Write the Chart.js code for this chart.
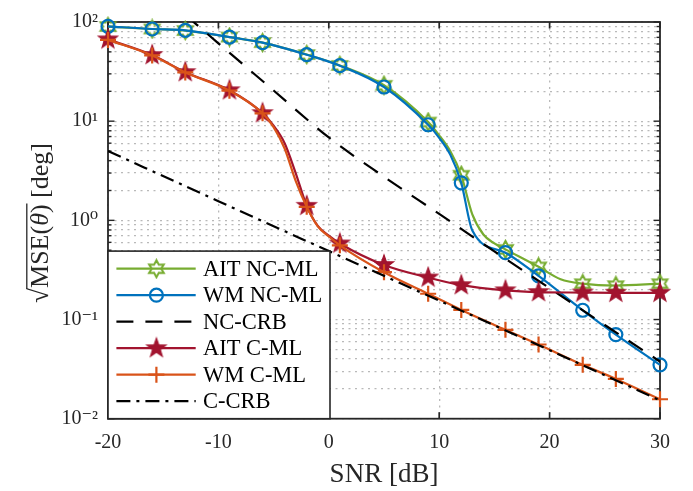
<!DOCTYPE html>
<html><head><meta charset="utf-8">
<script src="https://cdn.jsdelivr.net/npm/chart.js@4.4.1/dist/chart.umd.min.js"></script>
<style>html,body{margin:0;padding:0;background:#fff;}canvas{display:block;}</style>
</head><body>
<canvas id="c" width="693" height="491"></canvas>
<script>
// ---------------- data ----------------
const markerSnr = [-20,-16,-13,-9,-6,-2,1,5,9,12,16,19,23,26,30];

const aitNcSnr = [-20,-16,-13,-9,-6,-2,1,5,9,10,11,12,13,14,15,16,19,21,23,26,30];
const aitNcMse = [90,85,82,70.5,62,47,36.5,23,9.8,7.2,5.0,2.85,1.15,0.72,0.585,0.51,0.34,0.255,0.23,0.22,0.23];

const wmNcSnr = [-20,-16,-13,-9,-6,-2,1,5,9,10,11,12,13,16,19,23,26,30];
const wmNcMse = [90.5,85,82.5,70.5,62,46.8,36.3,22.1,9.2,6.8,4.6,2.39,0.79,0.472,0.275,0.124,0.0705,0.0349];

const ncCrbSnr = [-13,-10,-5,0,5,10,15,20,25,30];
const ncCrbMse = [118,61,20.4,6.85,2.75,1.16,0.486,0.207,0.088,0.0377];

const aitCSnr = [-20,-16,-13,-9,-6,-5,-4,-3,-2,-1,0,1,5,9,12,16,19,23,26,30];
const aitCMse = [66.8,46.4,31.2,20.5,12.05,9.0,6.0,3.0,1.4,0.88,0.70,0.585,0.355,0.265,0.222,0.197,0.189,0.187,0.186,0.186];

const wmCSnr = [-20,-16,-13,-9,-6,-5,-4,-3,-2,-1,0,1,5,9,12,16,19,23,26,30];
const wmCMse = [66,46,31,20.3,12,8.7,5.3,2.5,1.37,0.87,0.69,0.56,0.30,0.182,0.125,0.0788,0.056,0.0349,0.0252,0.0157];

const cCrbSnr = [-20,-10,0,10,20,30];
const cCrbMse = [5.0,1.56,0.49,0.155,0.049,0.0153];

const xTickValues = [-20,-10,0,10,20,30];
const yDecades = [0.01,0.1,1,10,100];
const yTickLabels = ['10\u207B\u00B2','10\u207B\u00B9','10\u2070','10\u00B9','10\u00B2'];
const seriesLabels = ['AIT NC-ML','WM NC-ML','NC-CRB','AIT C-ML','WM C-ML','C-CRB'];
const xTitle = 'SNR [dB]';

// ---------------- styles ----------------
const COL = {green:'#77AC30', blue:'#0072BD', red:'#A2142F', orange:'#D95319', black:'#000000', axis:'#262626', grid:'#b9b9b9'};
const SERIF = '"Liberation Serif", "DejaVu Serif", serif';

function starCanvas(n, R, ratio, stroke, fill, lw) {
  const s = Math.ceil(2 * R + lw + 2);
  const cv = document.createElement('canvas');
  cv.width = s; cv.height = s;
  const g = cv.getContext('2d');
  const c = s / 2;
  g.beginPath();
  for (let k = 0; k < 2 * n; k++) {
    const ang = -Math.PI / 2 + k * Math.PI / n;
    const rr = (k % 2 === 0) ? R : R * ratio;
    const px = c + rr * Math.cos(ang), py = c + rr * Math.sin(ang);
    if (k === 0) g.moveTo(px, py); else g.lineTo(px, py);
  }
  g.closePath();
  g.lineJoin = 'miter';
  if (fill) { g.fillStyle = fill; g.fill(); }
  g.lineWidth = lw; g.strokeStyle = stroke; g.stroke();
  return cv;
}
const hexagram = starCanvas(6, 8.5, 0.56, COL.green, null, 2);
const pentagram = starCanvas(5, 10, 0.40, COL.red, COL.red, 1.2);

const pts = (xs, ys) => xs.map((x, i) => ({x, y: ys[i]}));
const markerRadius = r => (ctx) => (ctx.raw && markerSnr.includes(ctx.raw.x)) ? r : 0;

const base = {borderWidth: 2.2, borderJoinStyle: 'round', cubicInterpolationMode: 'monotone', fill: false};

const datasets = [
  {...base, label: seriesLabels[0], data: pts(aitNcSnr, aitNcMse), borderColor: COL.green,
   pointStyle: hexagram, pointRadius: markerRadius(9), order: 6, clip: false},
  {...base, label: seriesLabels[1], data: pts(wmNcSnr, wmNcMse), borderColor: COL.blue,
   pointStyle: 'circle', pointRadius: markerRadius(6.5), pointBorderWidth: 2.2,
   pointBorderColor: COL.blue, pointBackgroundColor: 'rgba(0,0,0,0)', order: 5, clip: false},
  {...base, label: seriesLabels[2], data: pts(ncCrbSnr, ncCrbMse), borderColor: COL.black,
   borderDash: [17, 12], pointRadius: 0, order: 4},
  {...base, label: seriesLabels[3], data: pts(aitCSnr, aitCMse), borderColor: COL.red,
   pointStyle: pentagram, pointRadius: markerRadius(10), order: 3, clip: false},
  {...base, label: seriesLabels[4], data: pts(wmCSnr, wmCMse), borderColor: COL.orange,
   pointStyle: 'cross', pointRadius: markerRadius(8), pointBorderWidth: 2.2,
   pointBorderColor: COL.orange, order: 2, clip: false},
  {...base, label: seriesLabels[5], data: pts(cCrbSnr, cCrbMse), borderColor: COL.black,
   borderDash: [14, 6, 3, 6], pointRadius: 0, order: 1}
];

const isDecade = v => Math.abs(Math.log10(v) - Math.round(Math.log10(v))) < 1e-9;

// axes box with inward ticks (drawn under the data, as in the reference)
const axesBox = {
  id: 'axesBox',
  beforeDatasetsDraw(chart) {
    const {ctx, chartArea: a, scales: {x, y}} = chart;
    ctx.save();
    ctx.strokeStyle = COL.axis; ctx.lineWidth = 1.7; ctx.setLineDash([]);
    const ln = (x1, y1, x2, y2) => { ctx.beginPath(); ctx.moveTo(x1, y1); ctx.lineTo(x2, y2); ctx.stroke(); };
    x.ticks.forEach(t => {
      const px = x.getPixelForValue(t.value);
      ln(px, a.bottom, px, a.bottom - 6.5); ln(px, a.top, px, a.top + 6.5);
    });
    ctx.lineWidth = 1.4;
    y.ticks.forEach(t => {
      const py = y.getPixelForValue(t.value);
      const len = isDecade(t.value) ? 6.5 : 3.5;
      ln(a.left, py, a.left + len, py); ln(a.right, py, a.right - len, py);
    });
    ctx.lineWidth = 1.8;
    ctx.strokeRect(a.left, a.top, a.right - a.left, a.bottom - a.top);
    ctx.restore();
  }
};

// y-axis title with a radical and overline, legend box
const overlay = {
  id: 'overlay',
  afterDraw(chart) {
    const {ctx, chartArea: a} = chart;
    // ---- y title ----
    const size = 26;
    const cy = 223;
    const bx = 48; // baseline screen x
    ctx.save();
    ctx.translate(bx, cy);
    ctx.rotate(-Math.PI / 2);
    ctx.fillStyle = COL.axis; ctx.strokeStyle = COL.axis;
    ctx.textBaseline = 'alphabetic'; ctx.textAlign = 'left';
    const fUp = `${size}px ${SERIF}`, fIt = `italic ${size}px ${SERIF}`;
    ctx.font = fUp;
    const parenAsc = ctx.measureText('(').actualBoundingBoxAscent;
    const wA = ctx.measureText('MSE(').width, wC = ctx.measureText(')').width, wD = ctx.measureText(' [deg]').width;
    ctx.font = fIt; const wT = ctx.measureText('\u03B8').width;
    ctx.font = fUp; const m0 = ctx.measureText('\u221A');
    const radSize = size * (parenAsc + 4) / Math.max(m0.actualBoundingBoxAscent, 1);
    const fRad = `${radSize}px ${SERIF}`;
    ctx.font = fRad; const mr = ctx.measureText('\u221A');
    const wR = mr.width;
    const total = wR + wA + wT + wC + wD;
    let x0 = -total / 2;
    ctx.font = fRad; ctx.fillText('\u221A', x0, 0);
    const olY = -mr.actualBoundingBoxAscent + 0.8;
    const olX1 = x0 + mr.actualBoundingBoxRight - 1.2;
    x0 += wR;
    ctx.font = fUp; ctx.fillText('MSE(', x0, 0); x0 += wA;
    ctx.font = fIt; ctx.fillText('\u03B8', x0, 0); x0 += wT;
    ctx.font = fUp; ctx.fillText(')', x0, 0); x0 += wC;
    const olX2 = x0 + 1;
    ctx.fillText(' [deg]', x0, 0);
    ctx.lineWidth = 1.3;
    ctx.beginPath(); ctx.moveTo(olX1, olY); ctx.lineTo(olX2, olY); ctx.stroke();
    ctx.restore();

    // ---- legend ----
    const L = a.left, B = a.bottom, W = 222, H = 167.6;
    const top = B - H;
    ctx.save();
    ctx.fillStyle = '#ffffff';
    ctx.fillRect(L, top, W, H);
    ctx.strokeStyle = COL.axis; ctx.lineWidth = 1.6;
    ctx.strokeRect(L, top, W, H);
    const x1 = L + 8.4, x2 = L + 87.7, xm = L + 48.4, xt = L + 95;
    chart.data.datasets.forEach((ds, i) => {
      const yy = top + 17.6 + i * 26.5;
      ctx.setLineDash(ds.borderDash || []);
      ctx.strokeStyle = ds.borderColor; ctx.lineWidth = ds.borderWidth;
      ctx.beginPath(); ctx.moveTo(x1, yy); ctx.lineTo(x2, yy); ctx.stroke();
      ctx.setLineDash([]);
      const ps = ds.pointStyle;
      if (ps instanceof HTMLCanvasElement) {
        ctx.drawImage(ps, xm - ps.width / 2, yy - ps.height / 2);
      } else if (ps === 'circle') {
        ctx.strokeStyle = ds.pointBorderColor; ctx.lineWidth = 2.2;
        ctx.beginPath(); ctx.arc(xm, yy, 6.5, 0, Math.PI * 2); ctx.stroke();
      } else if (ps === 'cross') {
        ctx.strokeStyle = ds.pointBorderColor; ctx.lineWidth = 2.2;
        ctx.beginPath(); ctx.moveTo(xm - 8, yy); ctx.lineTo(xm + 8, yy);
        ctx.moveTo(xm, yy - 8); ctx.lineTo(xm, yy + 8); ctx.stroke();
      }
      ctx.fillStyle = '#000000';
      ctx.font = `22.5px ${SERIF}`;
      ctx.textBaseline = 'middle'; ctx.textAlign = 'left';
      ctx.fillText(ds.label, xt, yy + 1);
    });
    ctx.restore();
  }
};

new Chart(document.getElementById('c'), {
  type: 'line',
  data: {datasets},
  options: {
    responsive: false,
    animation: false,
    events: [],
    layout: {padding: {top: 15.7, right: 33, left: 0, bottom: 0}},
    plugins: {legend: {display: false}, tooltip: {enabled: false}},
    scales: {
      x: {
        type: 'linear', min: -20, max: 30,
        afterBuildTicks: s => { s.ticks = xTickValues.map(v => ({value: v})); },
        afterFit: s => { s.height = 72.3; },
        ticks: {font: {family: SERIF, size: 20}, color: COL.axis, padding: 12, maxRotation: 0, autoSkip: false,
                callback: v => String(v)},
        grid: {color: COL.grid, lineWidth: 1.3, drawTicks: false},
        border: {display: false, dash: [2, 4.5]},
        title: {display: true, text: xTitle, color: COL.axis, font: {family: SERIF, size: 27},
                padding: {top: 0, bottom: 0}}
      },
      y: {
        type: 'logarithmic', min: 0.01, max: 100,
        afterBuildTicks: s => {
          const t = [];
          yDecades.forEach((d, k) => {
            if (k === yDecades.length - 1) { t.push({value: d}); return; }
            for (let m = 1; m <= 9; m++) t.push({value: d * m});
          });
          s.ticks = t;
        },
        afterFit: s => { s.width = 108; },
        ticks: {font: {family: SERIF, size: 20}, color: COL.axis, padding: 10, autoSkip: false,
                callback: (v) => { const k = yDecades.findIndex(d => Math.abs(d - v) / d < 1e-6); return k >= 0 ? yTickLabels[k] : ''; }},
        grid: {color: COL.grid, lineWidth: 1.3, drawTicks: false},
        border: {display: false, dash: [2, 4.5]}
      }
    }
  },
  plugins: [axesBox, overlay]
});
</script>
</body></html>
